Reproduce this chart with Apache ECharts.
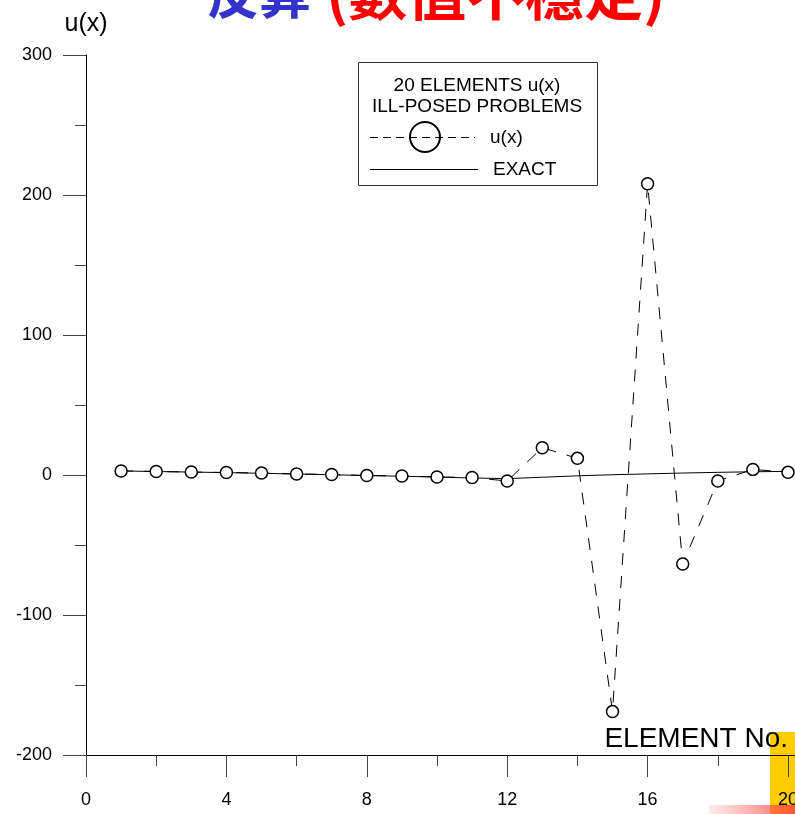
<!DOCTYPE html>
<html>
<head>
<meta charset="utf-8">
<script src="https://cdn.jsdelivr.net/npm/echarts@6/dist/echarts.min.js"></script>
<style>html,body{margin:0;padding:0;background:#fff;}#c{width:795px;height:814px;}</style>
</head>
<body>
<div id="c"></div>
<script>
const elements = [1,2,3,4,5,6,7,8,9,10,11,12,13,14,15,16,17,18,19,20];
const uValues = [2.9,2.5,2.1,1.8,1.4,0.7,0.4,-0.4,-0.7,-1.4,-1.8,-4.3,19.5,11.9,-169,208,-63.6,-4.3,4,1.9];
const exactValues = [2.9,2.5,2.1,1.7,1.2,0.7,0.2,-0.4,-0.9,-1.5,-2.1,-2.6,-1.6,-0.6,0.2,0.8,1.4,1.9,2.3,2.6];
const titleBlue = '反算';
const titleRed = '(數值不穩定)';
const legendTitle1 = '20 ELEMENTS u(x)';
const legendTitle2 = 'ILL-POSED PROBLEMS';
const seriesNames = ['u(x)', 'EXACT'];

const FONT = '"Liberation Sans", Arial, sans-serif';
const chart = echarts.init(document.getElementById('c'), null, {renderer: 'canvas'});
const pair = (xs, ys) => xs.map((x, i) => [x, ys[i]]);

chart.setOption({
  animation: false,
  backgroundColor: '#fff',
  grid: {left: 86, top: 55, right: 7, bottom: 59, containLabel: false, outerBoundsMode: 'none'},
  xAxis: {
    type: 'value', min: 0, max: 20, interval: 4,
    name: 'ELEMENT No.', nameLocation: 'end', nameGap: 0,
    nameTextStyle: {fontFamily: FONT, fontSize: 28, color: '#000', align: 'right', verticalAlign: 'bottom', padding: [0, 0, 2, 0]},
    axisLine: {show: true, onZero: false, lineStyle: {color: '#000', width: 1}},
    axisTick: {show: true, length: 22, inside: false, lineStyle: {color: '#444', width: 1}},
    minorTick: {show: true, splitNumber: 2, length: 11, lineStyle: {color: '#444', width: 1}},
    axisLabel: {fontFamily: FONT, fontSize: 18, color: '#000', margin: 36},
    splitLine: {show: false}
  },
  yAxis: {
    type: 'value', min: -200, max: 300, interval: 100,
    name: 'u(x)', nameLocation: 'end', nameGap: 18,
    nameTextStyle: {fontFamily: FONT, fontSize: 25, color: '#000', align: 'center'},
    axisLine: {show: true, onZero: false, lineStyle: {color: '#000', width: 1}},
    axisTick: {show: true, length: 23, inside: false, lineStyle: {color: '#444', width: 1}},
    minorTick: {show: true, splitNumber: 2, length: 11, lineStyle: {color: '#444', width: 1}},
    axisLabel: {fontFamily: FONT, fontSize: 18, color: '#000', margin: 34},
    splitLine: {show: false}
  },
  series: [
    {
      name: seriesNames[1], type: 'line', data: pair(elements, exactValues),
      showSymbol: false, symbol: 'none',
      lineStyle: {color: '#000', width: 1}, z: 2
    },
    {
      name: seriesNames[0], type: 'line', data: pair(elements, uValues),
      symbol: 'circle', symbolSize: 12,
      itemStyle: {color: '#fff', borderColor: '#000', borderWidth: 1.5},
      lineStyle: {color: '#000', width: 1, type: [12, 11]}, z: 3
    }
  ],
  graphic: [
    {type: 'rect', z: -10, shape: {x: 770, y: 732, width: 25, height: 82}, style: {fill: '#ffcc00'}},
    {type: 'rect', z: -9, shape: {x: 709, y: 805, width: 86, height: 9},
      style: {fill: new echarts.graphic.LinearGradient(0, 0, 1, 0, [
        {offset: 0, color: 'rgba(255,120,120,0.15)'},
        {offset: 1, color: 'rgba(255,60,60,0.85)'}
      ])}},
    {type: 'line', z: -5, shape: {x1: 788, y1: 755.5, x2: 795, y2: 755.5}, style: {stroke: '#000', lineWidth: 1}},
    {type: 'text', x: 207, y: 20, z: 10, style: {text: titleBlue, fill: '#3333cc', font: 'bold 52px "Noto Sans CJK TC"', textAlign: 'left', textVerticalAlign: 'bottom'}},
    {type: 'text', x: 326, y: 22, z: 10, style: {text: titleRed, fill: '#ff0000', font: 'bold 59px "Noto Sans CJK TC"', textAlign: 'left', textVerticalAlign: 'bottom'}},
    {type: 'rect', z: 10, shape: {x: 358.5, y: 62.5, width: 239, height: 123}, style: {fill: '#fff', stroke: '#333', lineWidth: 1}},
    {type: 'text', x: 477, y: 86, z: 11, style: {text: legendTitle1, fill: '#000', font: '19px ' + FONT, textAlign: 'center', textVerticalAlign: 'middle'}},
    {type: 'text', x: 477, y: 107, z: 11, style: {text: legendTitle2, fill: '#000', font: '19px ' + FONT, textAlign: 'center', textVerticalAlign: 'middle'}},
    {type: 'line', z: 11, shape: {x1: 370, y1: 137.5, x2: 475, y2: 137.5}, style: {stroke: '#000', lineWidth: 1, lineDash: [8, 5]}},
    {type: 'circle', z: 12, shape: {cx: 425, cy: 137, r: 15}, style: {fill: 'rgba(0,0,0,0)', stroke: '#000', lineWidth: 2}},
    {type: 'text', x: 490, y: 138, z: 11, style: {text: seriesNames[0], fill: '#000', font: '19px ' + FONT, textAlign: 'left', textVerticalAlign: 'middle'}},
    {type: 'line', z: 11, shape: {x1: 370, y1: 169.5, x2: 478, y2: 169.5}, style: {stroke: '#000', lineWidth: 1}},
    {type: 'text', x: 493, y: 170, z: 11, style: {text: seriesNames[1], fill: '#000', font: '19px ' + FONT, textAlign: 'left', textVerticalAlign: 'middle'}}
  ]
});
</script>
</body>
</html>
